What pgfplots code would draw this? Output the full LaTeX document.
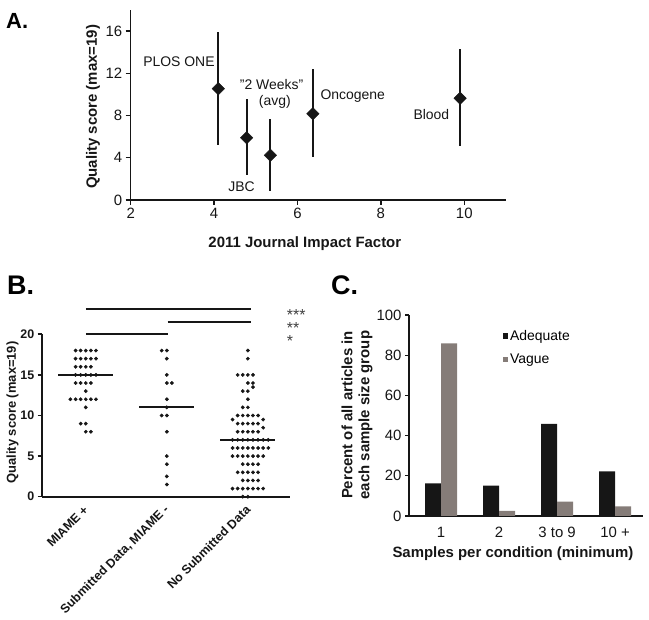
\documentclass[border=0pt]{standalone}
\usepackage{fontspec}
\setmainfont{Liberation Sans}
\usepackage{pgfplots}
\pgfplotsset{compat=1.18}
\definecolor{vague}{HTML}{857C78}
\definecolor{dark}{HTML}{161616}
\begin{document}
\begin{tikzpicture}[x=1bp,y=1bp]
\path[use as bounding box] (0,0) rectangle (649,620);
% panel letters
\node[anchor=base west,inner sep=0pt,font=\fontsize{22}{22}\bfseries\selectfont] at (6,591.7) {A.};
\node[anchor=base west,inner sep=0pt,font=\fontsize{27}{27}\bfseries\selectfont] at (7,325) {B.};
\node[anchor=base west,inner sep=0pt,font=\fontsize{27}{27}\bfseries\selectfont] at (331,325) {C.};

% ---------------- Panel A ----------------
\begin{axis}[
  at={(130.7bp,420bp)}, anchor=south west, scale only axis,
  width=375.3bp, height=190bp,
  xmin=2, xmax=11, ymin=0, ymax=18,
  axis lines=left, axis line style={-, line width=1.3bp, dark},
  xtick={2,4,6,8,10}, ytick={0,4,8,12,16},
  tick align=outside, major tick length=5bp,
  tick style={line width=1.3bp, dark},
  ticklabel style={font=\fontsize{15}{15}\selectfont, dark},
  /pgf/number format/assume math mode=true,
  xlabel={2011 Journal Impact Factor},
  ylabel={Quality score (max=19)},
  label style={font=\fontsize{15}{15}\bfseries\selectfont, dark},
  xlabel style={at={(axis description cs:0.464,0)}, anchor=base, yshift=-48bp},
  ylabel style={at={(axis description cs:-0.09,0.49)}, anchor=base},
  clip=false,
]
\addplot[only marks, dark, mark=square*, mark size=4.4bp,
  mark options={rotate=45, fill=dark, draw=dark},
  error bars/.cd, y dir=both, y explicit, error mark=none,
  error bar style={line width=1.8bp, dark}]
  coordinates {
  (4.10,10.54) += (0,5.36) -= (0,5.34)
  (4.78,5.90)  += (0,3.66) -= (0,3.53)
  (5.35,4.23)  += (0,3.44) -= (0,3.38)
  (6.37,8.17)  += (0,4.20) -= (0,4.13)
  (9.90,9.63)  += (0,4.64) -= (0,4.52)
  };
\node[font=\fontsize{14}{14}\selectfont, dark] at (axis cs:3.157,13.1) {PLOS ONE};
\node[font=\fontsize{14}{14}\selectfont, dark] at (axis cs:4.66,1.26) {JBC};
\node[font=\fontsize{14}{14}\selectfont, dark] at (axis cs:5.377,10.9) {\symbol{34}2 Weeks\symbol{34}};
\node[font=\fontsize{14}{14}\selectfont, dark] at (axis cs:5.457,9.3) {(avg)};
\node[font=\fontsize{14}{14}\selectfont, dark] at (axis cs:7.325,9.86) {Oncogene};
\node[font=\fontsize{14}{14}\selectfont, dark] at (axis cs:9.21,8.05) {Blood};
\end{axis}

% ---------------- Panel B ----------------
\begin{axis}[
  at={(42bp,123.3bp)}, anchor=south west, scale only axis,
  width=248bp, height=162.4bp,
  xmin=-0.54, xmax=2.52, ymin=0, ymax=20,
  axis lines=left, axis line style={-, line width=2bp, dark},
  xtick={0,1,2},
  xticklabels={MIAME +, {Submitted Data, MIAME -}, No Submitted Data},
  ytick={0,5,10,15,20},
  tick align=outside,
  x tick style={draw=none}, xtick style={draw=none},
  y tick style={line width=1.6bp, dark},
  major tick length=4.3bp,
  yticklabel style={font=\fontsize{12.5}{12.5}\bfseries\selectfont, dark},
  xticklabel style={font=\fontsize{12.5}{12.5}\bfseries\selectfont, dark, yshift=-6bp, xshift=1bp, rotate=45, anchor=east, inner sep=1bp},
  /pgf/number format/assume math mode=true,
  ylabel={Quality score (max=19)},
  ylabel style={font=\fontsize{13}{13}\bfseries\selectfont, dark, at={(axis description cs:-0.105,0.518)}, anchor=base},
  clip=false,
]
\addplot[only marks, mark=*, mark size=1.7bp, dark] coordinates {
(-0.126,18)(-0.063,18)(0,18)(0.063,18)(0.126,18)
(-0.126,17)(-0.063,17)(0,17)(0.063,17)(0.126,17)
(-0.126,16)(-0.063,16)(0,16)(0.063,16)
(-0.126,15)(-0.063,15)(0,15)(0.063,15)(0.126,15)
(-0.126,14)(-0.063,14)(0,14)(0.063,14)
(0,13)
(-0.189,12)(-0.126,12)(-0.063,12)(0,12)(0.063,12)(0.126,12)
(0,11)
(-0.063,9)(0,9)
(0,8)(0.063,8)
};
\addplot[only marks, mark=*, mark size=1.7bp, dark] coordinates {
(0.937,18)(1,18)(1,17)(1,15)(1,14)(1.063,14)(1,12)(1,11)(0.937,10)(1,10)(1,8)(1,5)(1,4)(1,2.5)(1,1.5)
};
\addplot[only marks, mark=*, mark size=1.7bp, dark] coordinates {
(2,18)(2,17)
(1.874,15)(1.937,15)(2,15)(2.063,15)
(2,14)(2.063,14)(2.063,13.5)
(1.937,13)(2,13)
(2,12)
(1.937,11)(2,11)
(1.874,10)(1.937,10)(2,10)(2.063,10)(2.126,10)
(1.811,9.5)(2.189,9.5)
(1.874,9)(1.937,9)(2,9)(2.063,9)(2.126,9)
(2.189,8.5)
(1.874,8)(1.937,8)(2,8)(2.063,8)(2.126,8)
(1.811,7)(1.874,7)(1.937,7)(2,7)(2.063,7)(2.126,7)(2.189,7)(2.252,7)
(1.811,6)(1.874,6)(1.937,6)(2,6)(2.063,6)(2.126,6)(2.189,6)(2.252,6)
(1.811,5)(1.874,5)(1.937,5)(2,5)(2.063,5)(2.126,5)(2.189,5)
(1.937,4)(2,4)(2.063,4)(2.126,4)
(1.874,3)(1.937,3)(2,3)(2.063,3)(2.126,3)
(1.937,2)(2,2)(2.063,2)(2.126,2)
(1.811,1)(1.874,1)(1.937,1)(2,1)(2.063,1)(2.126,1)(2.189,1)
(1.937,0)(2,0)
};
% medians
\addplot[line width=2.2bp, dark] coordinates {(-0.34,15)(0.34,15)};
\addplot[line width=2.2bp, dark] coordinates {(0.66,11)(1.34,11)};
\addplot[line width=2.2bp, dark] coordinates {(1.66,7)(2.34,7)};
% significance bars
\addplot[line width=2bp, dark] coordinates {(0,23.1)(2.04,23.1)};
\addplot[line width=2bp, dark] coordinates {(1.01,21.5)(2.04,21.5)};
\addplot[line width=2bp, dark] coordinates {(0,20)(1.01,20)};
\node[anchor=base west, inner sep=0pt, font=\fontsize{16}{16}\selectfont, black!75] at (axis cs:2.48,21.64) {***};
\node[anchor=base west, inner sep=0pt, font=\fontsize{16}{16}\selectfont, black!75] at (axis cs:2.48,20.09) {**};
\node[anchor=base west, inner sep=0pt, font=\fontsize{16}{16}\selectfont, black!75] at (axis cs:2.48,18.44) {*};
\end{axis}

% ---------------- Panel C ----------------
\begin{axis}[
  at={(409bp,104bp)}, anchor=south west, scale only axis,
  width=234bp, height=201bp,
  xmin=-0.552, xmax=3.48, ymin=0, ymax=100,
  ybar=0pt, bar width=16bp,
  axis lines=left, axis line style={-, line width=1.2bp, dark},
  xtick={0,1,2,3}, xticklabels={1,2,3 to 9,10 +},
  x tick style={draw=none}, xtick style={draw=none},
  ytick={0,20,40,60,80,100},
  tick align=outside, major tick length=4bp,
  y tick style={line width=1.2bp, dark},
  ticklabel style={font=\fontsize{15}{15}\selectfont, dark},
  xticklabel style={anchor=base, yshift=-18bp},
  /pgf/number format/assume math mode=true,
  xlabel={Samples per condition (minimum)},
  xlabel style={font=\fontsize{15}{15}\bfseries\selectfont, dark, at={(axis description cs:0.444,0)}, anchor=base, yshift=-41.3bp},
  ylabel={Percent of all articles in\\each sample size group},
  ylabel style={font=\fontsize{15}{17}\bfseries\selectfont, dark, align=center, at={(axis description cs:-0.222,0.502)}, anchor=center},
  legend style={at={(axis description cs:0.40,0.935)}, anchor=north west, draw=none, fill=none,
     font=\fontsize{14}{14}\selectfont, row sep=8bp, inner sep=0pt},
  legend cell align=left,
  legend image code/.code={\fill[#1] (0bp,-2.65bp) rectangle (5.3bp,2.65bp);},
  clip=false,
]
\addplot[fill=dark, draw=none] coordinates {(0,16.25)(1,15.1)(2,45.8)(3,22.2)};
\addplot[fill=vague, draw=none] coordinates {(0,85.9)(1,2.5)(2,7.1)(3,4.8)};
\legend{Adequate, Vague}
\end{axis}
\end{tikzpicture}
\end{document}
